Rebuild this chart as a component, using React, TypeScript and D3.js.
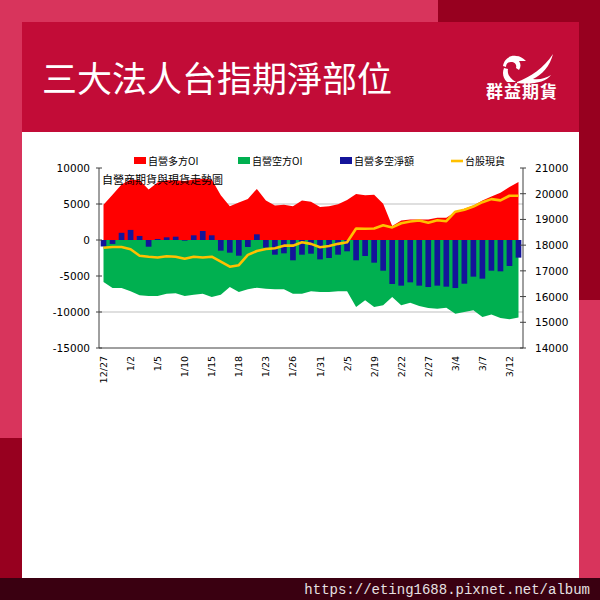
import React from "react";
import * as d3 from "d3";

const dates = ["12/27","12/28","12/29","1/2","1/3","1/4","1/5","1/8","1/9","1/10","1/11","1/12","1/15","1/16","1/17","1/18","1/19","1/22","1/23","1/24","1/25","1/26","1/29","1/30","1/31","2/1","2/2","2/5","2/15","2/16","2/19","2/20","2/21","2/22","2/23","2/26","2/27","2/29","3/1","3/4","3/5","3/6","3/7","3/8","3/11","3/12","3/13"];

const longOI = [4900,6300,7700,8400,8300,7000,8000,8300,8300,8200,8400,8500,8400,6200,4700,5200,5700,7100,5500,4800,4900,4700,5500,5300,4600,4700,4950,5550,6400,6200,6300,5050,1950,2700,2850,2850,2850,3100,3100,3900,4350,4800,5500,6050,6550,7350,8050];

const shortOI = [-5830,-6670,-6670,-7130,-7690,-7780,-7780,-7450,-7410,-7780,-7590,-7450,-7920,-7590,-6530,-7220,-6850,-6620,-6760,-6850,-6850,-7450,-7450,-7130,-7220,-7220,-7130,-7130,-9300,-8380,-9300,-9070,-7920,-9070,-8700,-9170,-9450,-9540,-9400,-10230,-10000,-9770,-10700,-10330,-10830,-11000,-10750];

const netOI = [-900,-550,1000,1400,560,-930,140,370,460,-90,650,1250,650,-1480,-1760,-2180,-970,790,-1060,-2040,-1850,-2820,-2040,-1900,-2690,-2500,-2040,-1570,-2820,-2220,-3150,-4260,-6110,-6340,-5880,-6340,-6530,-6340,-6480,-6670,-6070,-5090,-5370,-4260,-4350,-3610,-2450];

const taiex = [17900,17930,17930,17840,17590,17550,17520,17570,17550,17470,17550,17520,17550,17360,17160,17220,17620,17770,17850,17880,17980,17980,18110,18050,17920,17970,18050,18110,18650,18640,18650,18770,18690,18850,18920,18960,18870,18970,18930,19300,19380,19500,19670,19790,19740,19920,19920];

const leftTicks = [10000, 5000, 0, -5000, -10000, -15000];
const rightTicks = [21000, 20000, 19000, 18000, 17000, 16000, 15000, 14000];
const gridTicks = [5000, -10000];

const seriesNames = ["自營多方OI", "自營空方OI", "自營多空淨額", "台股現貨"];

const CJK = '"Noto Sans CJK TC", "Noto Sans CJK SC", sans-serif';
const NUM = '"DejaVu Sans", Verdana, sans-serif';

export default function App() {
  const x = d3.scaleBand<string>().domain(dates).range([99, 523]).paddingInner(0.37).paddingOuter(0.185);
  const cx = (i: number) => (x(dates[i]) as number) + x.bandwidth() / 2;
  const yL = d3.scaleLinear().domain([-15000, 10000]).range([348, 168]);
  const yR = d3.scaleLinear().domain([14000, 21000]).range([348, 168]);

  const longArea = d3.area<number>().x((_, i) => cx(i)).y0(() => yL(0)).y1((d) => yL(d));
  const shortArea = d3.area<number>().x((_, i) => cx(i)).y0(() => yL(0)).y1((d) => yL(d));
  const line = d3.line<number>().x((_, i) => cx(i)).y((d) => yR(d));

  const legendItems = [
    { name: seriesNames[0], color: "#ff0000", x: 134, type: "rect" },
    { name: seriesNames[1], color: "#00b050", x: 238, type: "rect" },
    { name: seriesNames[2], color: "#14149a", x: 340, type: "rect" },
    { name: seriesNames[3], color: "#ffc000", x: 451, type: "line" },
  ];

  return (
    <svg width={600} height={600} style={{ position: "absolute", left: 0, top: 0 }}>
      {/* background frame */}
      <rect x={0} y={0} width={600} height={600} fill="#d8345c" />
      <rect x={438} y={0} width={162} height={300} fill="#97001f" />
      <rect x={0} y={438} width={22} height={142} fill="#97001f" />
      <rect x={22} y={22} width={557} height={110} fill="#c20c37" />
      <rect x={22} y={132} width={557} height={446} fill="#ffffff" />
      <rect x={0} y={578} width={600} height={22} fill="#3a0011" />
      <text x={590} y={594} textAnchor="end" fill="#e6e0e2" fontSize={14} fontFamily='"Liberation Mono", "DejaVu Sans Mono", monospace'>https://eting1688.pixnet.net/album</text>

      {/* header */}
      <text x={42} y={92} fill="#ffffff" fontSize={35} fontWeight={400} fontFamily={CJK}>三大法人台指期淨部位</text>
      {/* logo */}
      <g fill="#ffffff">
        <path d="M503,66 C504,59 510,55 516,56 C520,56 523,58 526,61 L519,61 C521,64 521,67 519,70 L516,68 C517,65 515,62 511,62 C508,62 506,64 506,67 Z" />
        <path d="M504,68 C502,73 503,78 507,82 L516,82 C510,79 507,74 508,69 Z" />
        <path d="M517,82 C530,77 544,68 553,54 C550,66 542,75 533,79 C540,80 546,78 551,75 C546,82 533,85 517,83 Z" />
        <text x={522} y={98} textAnchor="middle" fontSize={17} fontWeight={700} fontFamily={CJK} letterSpacing={1}>群益期貨</text>
      </g>

      {/* gridlines */}
      {gridTicks.map((t) => (
        <line key={t} x1={99} x2={523} y1={yL(t)} y2={yL(t)} stroke="#bfbfbf" strokeWidth={1} />
      ))}

      {/* areas */}
      <path d={longArea(longOI) as string} fill="#ff0000" />
      <path d={shortArea(shortOI) as string} fill="#00b050" />

      {/* bars */}
      {netOI.map((v, i) => (
        <rect key={i} x={x(dates[i])} width={x.bandwidth()} y={Math.min(yL(v), yL(0))} height={Math.abs(yL(v) - yL(0))} fill="#14149a" />
      ))}

      {/* line */}
      <path d={line(taiex) as string} fill="none" stroke="#ffc000" strokeWidth={2.6} strokeLinejoin="round" />

      {/* axes */}
      <line x1={99} x2={99} y1={168} y2={348} stroke="#404040" />
      <line x1={523} x2={523} y1={168} y2={348} stroke="#404040" />
      <line x1={99} x2={523} y1={348} y2={348} stroke="#404040" />
      {leftTicks.map((t) => (
        <g key={t}>
          <line x1={96} x2={102} y1={yL(t)} y2={yL(t)} stroke="#404040" />
          <text x={90} y={yL(t) + 4} textAnchor="end" fontSize={10.5} fontFamily={NUM} fill="#000">{t}</text>
        </g>
      ))}
      {rightTicks.map((t) => (
        <g key={t}>
          <line x1={520} x2={526} y1={yR(t)} y2={yR(t)} stroke="#404040" />
          <text x={535} y={yR(t) + 4} textAnchor="start" fontSize={10.5} fontFamily={NUM} fill="#000">{t}</text>
        </g>
      ))}
      {dates.map((d, i) =>
        i % 3 === 0 ? (
          <text key={d} transform={`translate(${cx(i) + 3.5},356) rotate(-90)`} textAnchor="end" fontSize={9.5} fontFamily={NUM} fill="#000">{d}</text>
        ) : null
      )}

      {/* chart title */}
      <text x={102} y={184} fontSize={11} fontFamily={CJK} fill="#000">自營商期貨與現貨走勢圖</text>

      {/* legend */}
      {legendItems.map((l) => (
        <g key={l.name}>
          {l.type === "rect" ? (
            <rect x={l.x} y={157} width={12} height={7} fill={l.color} />
          ) : (
            <line x1={l.x} x2={l.x + 12} y1={161} y2={161} stroke={l.color} strokeWidth={2.6} />
          )}
          <text x={l.x + 14} y={164.5} fontSize={10} fontFamily={CJK} fill="#000">{l.name}</text>
        </g>
      ))}
    </svg>
  );
}
